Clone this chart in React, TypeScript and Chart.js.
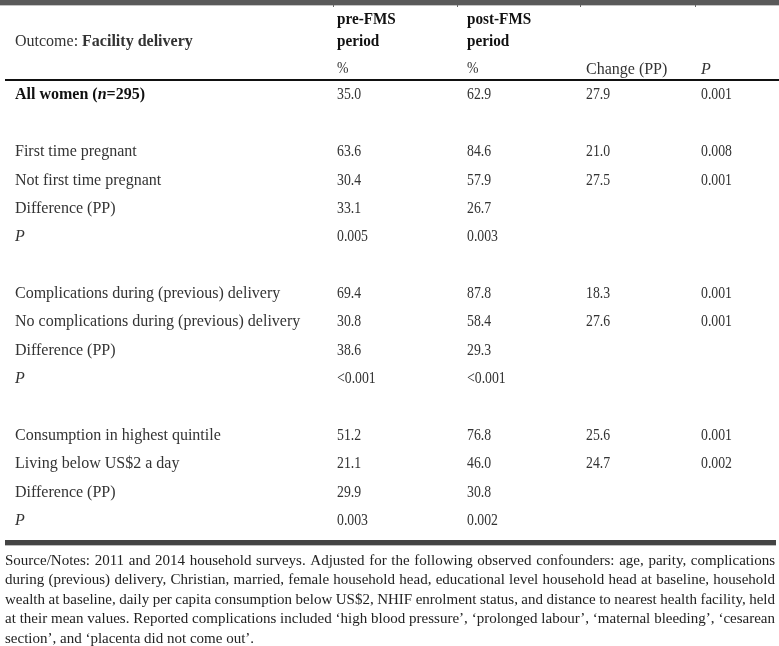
import React, { useEffect, useRef } from "react";
import { Chart, registerables } from "chart.js";
Chart.register(...registerables);

// ---------- DATA ----------
const rowLabels = [
  "All women (n=295)", "",
  "First time pregnant", "Not first time pregnant", "Difference (PP)", "P", "",
  "Complications during (previous) delivery", "No complications during (previous) delivery", "Difference (PP)", "P", "",
  "Consumption in highest quintile", "Living below US$2 a day", "Difference (PP)", "P",
];
const preFMS = ["35.0", "", "63.6", "30.4", "33.1", "0.005", "", "69.4", "30.8", "38.6", "<0.001", "", "51.2", "21.1", "29.9", "0.003"];
const postFMS = ["62.9", "", "84.6", "57.9", "26.7", "0.003", "", "87.8", "58.4", "29.3", "<0.001", "", "76.8", "46.0", "30.8", "0.002"];
const changePP = ["27.9", "", "21.0", "27.5", "", "", "", "18.3", "27.6", "", "", "", "25.6", "24.7", "", ""];
const pValues = ["0.001", "", "0.008", "0.001", "", "", "", "0.001", "0.001", "", "", "", "0.001", "0.002", "", ""];
const headerPre = ["pre-FMS", "period", "%"];
const headerPost = ["post-FMS", "period", "%"];
const headerChange = "Change (PP)";
const headerP = "P";
const outcomeLabel = "Outcome: ";
const outcomeValue = "Facility delivery";
const notesLines = [
  "Source/Notes: 2011 and 2014 household surveys. Adjusted for the following observed confounders: age, parity, complications",
  "during (previous) delivery, Christian, married, female household head, educational level household head at baseline, household",
  "wealth at baseline, daily per capita consumption below US$2, NHIF enrolment status, and distance to nearest health facility, held",
  "at their mean values. Reported complications included \u2018high blood pressure\u2019, \u2018prolonged labour\u2019, \u2018maternal bleeding\u2019, \u2018cesarean",
  "section\u2019, and \u2018placenta did not come out\u2019.",
];

// ---------- LAYOUT / STYLE ----------
const W = 779;
const H = 646;
const COL_X = { label: 15, pre: 337, post: 467, change: 586, p: 701 };
const SEP_X = [333, 457, 580, 695];
const SERIF = '"Liberation Serif", "Times New Roman", serif';
const FS = 16;
const SX = 1.0;
const SX_NUM = 0.86;
const TXT = "#333";
const BOLD_TXT = "#111";
const Y_NUDGE = 1;

type Run = { t: string; font: string };

function drawRuns(ctx: CanvasRenderingContext2D, runs: Run[], x: number, y: number, color: string, sx = SX) {
  ctx.save();
  ctx.translate(x, y + Y_NUDGE);
  ctx.scale(sx, 1);
  ctx.fillStyle = color;
  ctx.textBaseline = "middle";
  ctx.textAlign = "left";
  let cx = 0;
  for (const r of runs) {
    ctx.font = r.font;
    ctx.fillText(r.t, cx, 0);
    cx += ctx.measureText(r.t).width;
  }
  ctx.restore();
}

const reg = (s = FS) => `${s}px ${SERIF}`;
const bold = (s = FS) => `bold ${s}px ${SERIF}`;
const ital = (s = FS) => `italic ${s}px ${SERIF}`;
const boldItal = (s = FS) => `italic bold ${s}px ${SERIF}`;

function labelRuns(label: string, idx: number): { runs: Run[]; color: string } {
  if (idx === 0) {
    const m = label.match(/^(.*\()n(=.*)$/);
    if (m) return { runs: [{ t: m[1], font: bold() }, { t: "n", font: boldItal() }, { t: m[2], font: bold() }], color: BOLD_TXT };
  }
  if (label === "P") return { runs: [{ t: label, font: ital() }], color: TXT };
  return { runs: [{ t: label, font: reg() }], color: TXT };
}

const tablePlugin = {
  id: "tableText",
  afterDatasetsDraw(chart: any) {
    const ctx: CanvasRenderingContext2D = chart.ctx;
    const area = chart.chartArea;
    ctx.save();
    // top thick rule
    ctx.fillStyle = "#5a5a5a";
    ctx.fillRect(0, 0, W, 5);
    ctx.fillStyle = "#c4c4c4";
    ctx.fillRect(0, 5, W, 1);
    ctx.fillStyle = "#666";
    for (const sx of SEP_X) ctx.fillRect(sx, 5, 1, 2);
    // header rule
    ctx.fillStyle = "#111";
    ctx.fillRect(5, area.top - 1, W - 5, 2);
    // bottom thick rule
    ctx.fillStyle = "#444";
    ctx.fillRect(5, area.bottom + 6, 771, 5);
    ctx.fillStyle = "#bbb";
    ctx.fillRect(5, area.bottom + 11, 771, 1);

    // header texts
    drawRuns(ctx, [{ t: outcomeLabel, font: reg() }, { t: outcomeValue, font: bold() }], COL_X.label, 41, TXT);
    const hy = [19, 41, 68];
    headerPre.forEach((t, i) => drawRuns(ctx, [{ t, font: i < 2 ? bold() : reg() }], COL_X.pre, hy[i], i < 2 ? BOLD_TXT : TXT, i < 2 ? 0.95 : SX_NUM));
    headerPost.forEach((t, i) => drawRuns(ctx, [{ t, font: i < 2 ? bold() : reg() }], COL_X.post, hy[i], i < 2 ? BOLD_TXT : TXT, i < 2 ? 0.95 : SX_NUM));
    drawRuns(ctx, [{ t: headerChange, font: reg() }], COL_X.change, 69, TXT);
    drawRuns(ctx, [{ t: headerP, font: ital() }], COL_X.p, 69, TXT);

    // cells from dataset elements
    chart.data.datasets.forEach((ds: any, di: number) => {
      const meta = chart.getDatasetMeta(di);
      meta.data.forEach((el: any, j: number) => {
        const pt = ds.data[j];
        if (ds.kind === "label") {
          const { runs, color } = labelRuns(pt.text, pt.y);
          drawRuns(ctx, runs, el.x, el.y, color);
        } else {
          drawRuns(ctx, [{ t: pt.text, font: reg() }], el.x, el.y, TXT, SX_NUM);
        }
      });
    });

    // notes, justified
    ctx.fillStyle = "#222";
    ctx.textBaseline = "middle";
    const nFont = `15px ${SERIF}`;
    ctx.font = nFont;
    const left = 5, right = 775;
    notesLines.forEach((line, i) => {
      const y = 561 + i * 19.5;
      const words = line.split(" ");
      const ww = words.map((w) => ctx.measureText(w).width);
      const total = ww.reduce((a, b) => a + b, 0);
      const spaceW = ctx.measureText(" ").width;
      if (i < notesLines.length - 1 && words.length > 1) {
        let gap = (right - left - total) / (words.length - 1);
        let scale = 1;
        if (gap < spaceW * 0.6) {
          const natural = total + spaceW * (words.length - 1);
          scale = (right - left) / natural;
          gap = spaceW;
        }
        ctx.save();
        ctx.translate(left, y);
        ctx.scale(scale, 1);
        let cx = 0;
        words.forEach((w, k) => {
          ctx.fillText(w, cx, 0);
          cx += ww[k] + gap;
        });
        ctx.restore();
      } else {
        ctx.fillText(line, left, y);
      }
    });
    ctx.restore();
  },
};

function cellData(values: string[], x: number) {
  return values
    .map((text, i) => ({ x, y: i, text }))
    .filter((d) => d.text !== "");
}

export default function App() {
  const ref = useRef<HTMLCanvasElement | null>(null);
  useEffect(() => {
    document.body.style.margin = "0";
    if (!ref.current) return;
    const nRows = rowLabels.length;
    const chart = new Chart(ref.current, {
      type: "scatter",
      data: {
        datasets: [
          { kind: "label", data: cellData(rowLabels, COL_X.label), pointRadius: 0 } as any,
          { kind: "value", data: cellData(preFMS, COL_X.pre), pointRadius: 0 } as any,
          { kind: "value", data: cellData(postFMS, COL_X.post), pointRadius: 0 } as any,
          { kind: "value", data: cellData(changePP, COL_X.change), pointRadius: 0 } as any,
          { kind: "value", data: cellData(pValues, COL_X.p), pointRadius: 0 } as any,
        ],
      },
      options: {
        animation: false,
        responsive: false,
        devicePixelRatio: 1,
        layout: { padding: { top: 80, bottom: 112, left: 0, right: 0 } },
        plugins: { legend: { display: false }, tooltip: { enabled: false } },
        events: [],
        scales: {
          x: { type: "linear", min: 0, max: W, display: false },
          y: { type: "linear", min: -0.5, max: nRows - 0.5, reverse: true, display: false },
        },
      },
      plugins: [tablePlugin],
    });
    return () => chart.destroy();
  }, []);
  return (
    <div style={{ width: W, height: H, background: "#fff" }}>
      <canvas ref={ref} width={W} height={H} style={{ display: "block" }} />
    </div>
  );
}
